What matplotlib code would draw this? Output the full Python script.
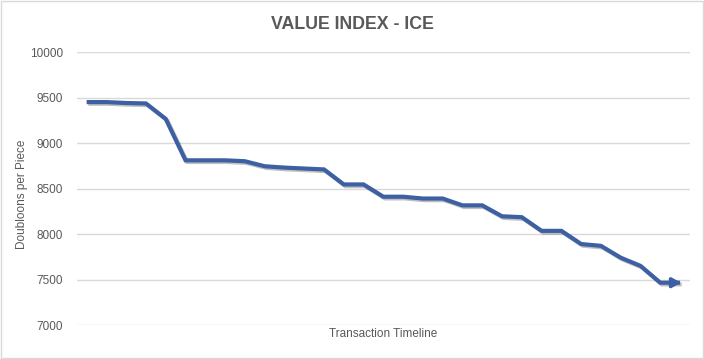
import matplotlib
matplotlib.use("Agg")
import matplotlib.pyplot as plt
import matplotlib.patheffects as pe
from matplotlib.patches import Rectangle

# values
steps = list(range(31))
price = [9450, 9450, 9440, 9435, 9265, 8810, 8810, 8810, 8800, 8745,
         8730, 8720, 8710, 8545, 8545, 8410, 8410, 8390, 8390, 8315,
         8315, 8195, 8185, 8035, 8035, 7890, 7870, 7740, 7650, 7465, 7465]
yticks = [7000, 7500, 8000, 8500, 9000, 9500, 10000]

plt.rcParams['font.family'] = ['Liberation Sans', 'DejaVu Sans']
grey = '#595959'
blue = '#3d5fa3'

fig = plt.figure(figsize=(7.04, 3.59), dpi=100)
ax = fig.add_axes([0.109, 0.0947, 0.871, 0.7603])

shadow = [pe.SimpleLineShadow(offset=(1.2, -1.2), alpha=0.25), pe.Normal()]
ax.plot(steps, price, color=blue, lw=3, solid_joinstyle='miter',
        solid_capstyle='butt', path_effects=shadow, zorder=3)
# arrow head at the end of the line
ax.annotate('', xy=(steps[-1] + 0.05, price[-1]), xytext=(steps[-2] + 0.5, price[-1]),
            arrowprops=dict(arrowstyle='-|>,head_length=0.5,head_width=0.28',
                            color=blue, lw=2.5, shrinkA=0, shrinkB=0), zorder=4)

ax.set_xlim(-0.5, 30.5)
ax.set_ylim(7000, 10000)
ax.set_yticks(yticks)
ax.set_xticks([])
ax.tick_params(axis='y', length=0, labelsize=8.5, labelcolor=grey, pad=10)
ax.grid(axis='y', color='#d9d9d9', lw=1)
ax.set_axisbelow(True)
for s in ax.spines.values():
    s.set_visible(False)

ax.set_ylabel('Doubloons per Piece', fontsize=8.5, color=grey)
ax.yaxis.set_label_coords(-0.079, 0.48)
ax.set_xlabel('Transaction Timeline', fontsize=8.5, color=grey, labelpad=2)
fig.text(0.5, 0.933, 'VALUE INDEX - ICE', ha='center', va='center',
         fontsize=12.8, fontweight='bold', color=grey)

fig.patches.append(Rectangle((0.001, 0.002), 0.997, 0.995, transform=fig.transFigure,
                             fill=False, edgecolor='#d9d9d9', lw=1))

fig.savefig('out.png', dpi=100)
